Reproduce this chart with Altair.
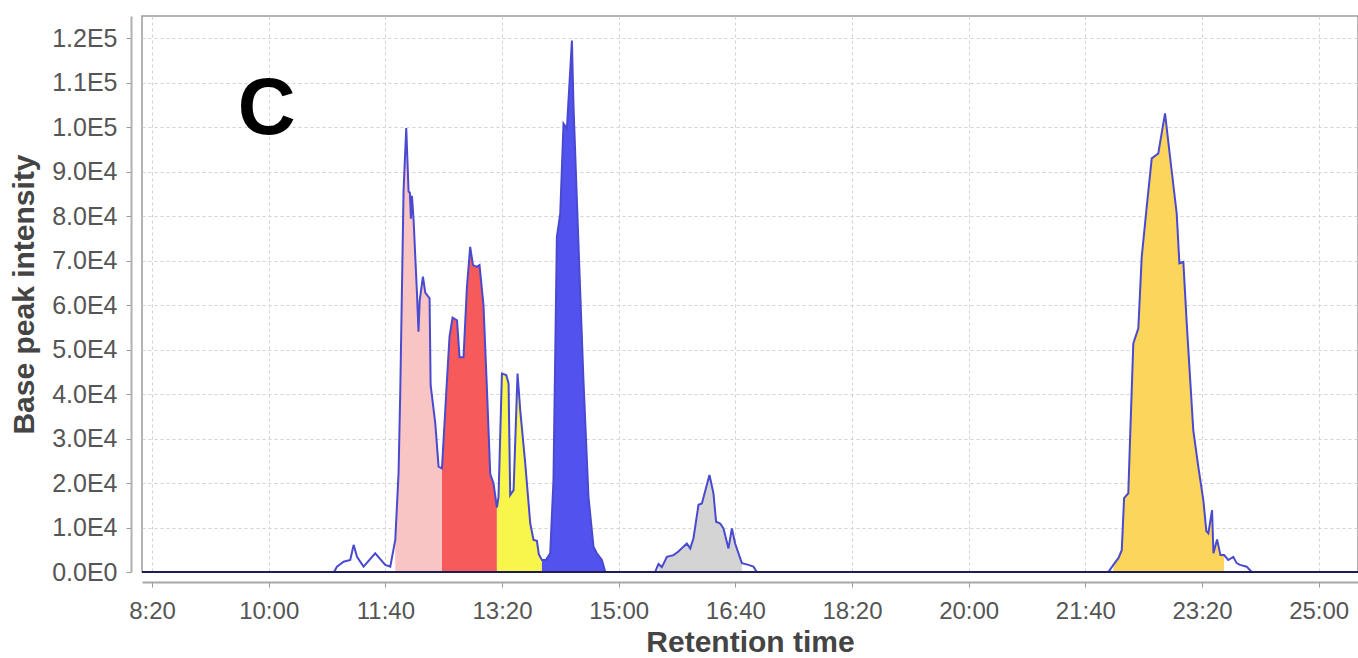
import altair as alt
import pandas as pd

# Base peak chromatogram: retention time (s) and intensity
TIME_S = [
    490.0, 656.0, 658.5, 664.2, 669.9, 672.8, 675.7, 681.3, 691.3, 699.9, 704.2,
    708.5, 711.3, 712.8, 714.2, 715.6, 717.9, 719.9, 721.0, 721.9, 722.8, 724.2,
    727.1, 728.4, 729.4, 732.2, 734.2, 737.9, 738.8, 742.8, 745.6, 748.5,
    752.8, 755.0, 757.6, 761.4, 763.6, 767.0, 769.9, 772.7, 775.1, 778.5, 780.7,
    784.1, 787.1, 789.9, 792.7, 795.6,
    797.0, 799.9, 803.6, 805.6, 807.0, 809.9, 813.3, 815.6, 819.9, 824.2, 827.0,
    829.9, 831.5, 834.2,
    837.5, 841.3, 844.1, 847.0, 849.9, 852.7, 855.6, 859.9, 861.3, 865.6, 869.8,
    874.1, 878.4, 881.3, 885.6, 888.5,
    931.3, 934.1, 937.0, 941.3, 947.0, 951.2, 955.5, 958.4, 961.3, 964.1, 968.4,
    971.3, 977.8, 981.2, 983.5, 987.0, 989.8, 994.1, 997.0, 999.8, 1005.6, 1011.2,
    1015.5, 1018.4,
    1319.7, 1324.0, 1328.3, 1331.2, 1333.2, 1336.8, 1338.3, 1341.1, 1345.4, 1348.3,
    1352.6, 1356.9, 1362.5, 1368.3, 1372.6, 1378.3, 1380.6, 1384.0, 1386.9, 1392.5,
    1396.8, 1401.1, 1403.7, 1405.4, 1408.6, 1409.8, 1412.9, 1415.8, 1418.9, 1422.5,
    1426.8, 1429.7, 1432.6, 1438.3, 1442.6,
    1540.0,
]
INTENSITY = [
    0, 0, 1200, 2300, 2700, 6100, 3400, 1200, 4200, 1600, 1200,
    7200, 22200, 40900, 63400, 85800, 99800, 85500, 85300, 79400, 84600, 79100,
    62600, 54000, 61000, 66400, 62800, 61500, 42000, 33400, 23700, 23300,
    43100, 52900, 57200, 56600, 48300, 48300, 64000, 73100, 69000, 68600, 69000,
    60000, 40900, 22000, 19900, 14500,
    16900, 44600, 44300, 42400, 17300, 18400, 44600, 36400, 24400, 10900, 7200,
    7000, 4000, 2700,
    2700, 4200, 20700, 75300, 80600, 100800, 99700, 119500, 104500, 73100, 43100,
    16900, 5700, 4200, 2700, 0,
    0, 1800, 1100, 3400, 3800, 4600, 5700, 6400, 5300, 7600, 15100,
    15400, 21800, 17700, 11300, 10900, 9800, 5300, 9800, 6400, 2000, 1600,
    1200, 0,
    0, 1600, 3100, 4900, 16600, 17700, 29700, 51400, 54800, 70800,
    82100, 93000, 94100, 103100, 93300, 80600, 69400, 69700, 55900, 31900,
    23700, 16200, 9200, 8700, 13900, 4200, 7300, 3800, 3800, 2700,
    3400, 2000, 1600, 1200, 0,
    0,
]

# Collected fractions: start / end retention time (s) and fill colour
FRACTION_NAMES = ["F1", "F2", "F3", "F4", "F5", "F6"]
FRACTION_START = [708.5, 748.5, 795.6, 834.2, 934.1, 1324.0]
FRACTION_END = [748.5, 795.6, 834.2, 888.5, 1005.6, 1418.9]
FRACTION_COLORS = ["#f9c4c4", "#f65a5a", "#f8f64a", "#5252ee", "#d4d4d4", "#fcd55b"]

X_TICKS = list(range(500, 1501, 100))
Y_TICKS = list(range(0, 120001, 10000))
PANEL_LABEL = "C"

trace = pd.DataFrame({"t": TIME_S, "intensity": INTENSITY})

fill_rows = []
for name, lo, hi in zip(FRACTION_NAMES, FRACTION_START, FRACTION_END):
    for t, v in zip(TIME_S, INTENSITY):
        if lo <= t <= hi:
            fill_rows.append({"t": t, "intensity": v, "fraction": name})
fills = pd.DataFrame(fill_rows)

FONT = "Liberation Sans"

x_axis = alt.Axis(
    values=X_TICKS,
    labelExpr="floor(datum.value / 60) + ':' + (datum.value % 60 < 10 ? '0' : '') + (datum.value % 60)",
    offset=10,
    grid=True,
    gridColor="#d2d2d2",
    gridDash=[3, 3],
    gridWidth=1,
    domainColor="#a8a8a8",
    domainWidth=2,
    tickColor="#999999",
    tickSize=5,
    labelFont=FONT,
    labelFontSize=24,
    labelColor="#555555",
    labelPadding=12,
    titleFont=FONT,
    titleFontSize=30,
    titleFontWeight="bold",
    titleColor="#444444",
    titlePadding=4,
)
y_axis = alt.Axis(
    values=Y_TICKS,
    labelExpr="datum.value == 0 ? '0.0E0' : format(datum.value / pow(10, floor(log(datum.value) / LN10 + 1e-9)), '.1f') + 'E' + floor(log(datum.value) / LN10 + 1e-9)",
    offset=11,
    grid=True,
    gridColor="#d2d2d2",
    gridDash=[3, 3],
    gridWidth=1,
    domainColor="#b0b0b0",
    domainWidth=2,
    tickColor="#999999",
    tickSize=5,
    labelFont=FONT,
    labelFontSize=25,
    labelColor="#555555",
    labelPadding=9,
    titleFont=FONT,
    titleFontSize=30,
    titleFontWeight="bold",
    titleColor="#444444",
    titlePadding=12,
)

X = alt.X("t:Q", scale=alt.Scale(domain=[491.4, 1533.7], nice=False, zero=False),
          axis=x_axis, title="Retention time")
Y = alt.Y("intensity:Q", scale=alt.Scale(domain=[0, 125000], nice=False),
          axis=y_axis, title="Base peak intensity", stack=None)

areas = alt.Chart(fills).mark_area(clip=True, opacity=1).encode(
    x=X,
    y=Y,
    color=alt.Color("fraction:N",
                    scale=alt.Scale(domain=FRACTION_NAMES, range=FRACTION_COLORS),
                    legend=None),
)

line = alt.Chart(trace).mark_line(clip=True, color="#4a4ad0", strokeWidth=2).encode(
    x=X, y=Y
)

baseline = alt.Chart(pd.DataFrame({"intensity": [0]})).mark_rule(
    color="#1e1e55", strokeWidth=2
).encode(y=alt.Y("intensity:Q"))

label = alt.Chart(pd.DataFrame({"label": [PANEL_LABEL]})).mark_text(
    font=FONT, fontSize=80, fontWeight="bold", color="#000000",
    align="center", baseline="alphabetic",
).encode(x=alt.value(124.7), y=alt.value(118), text="label:N")

chart = alt.layer(areas, line, baseline, label).properties(
    width=1216,
    height=556,
    padding={"left": 142, "top": 16, "right": 0, "bottom": 86},
    autosize=alt.AutoSizeParams(type="none"),
    background="#ffffff",
).configure_view(stroke="#9a9a9a", strokeWidth=1.5)

chart.save("out.html", embed_options={"renderer": "svg", "actions": False})
